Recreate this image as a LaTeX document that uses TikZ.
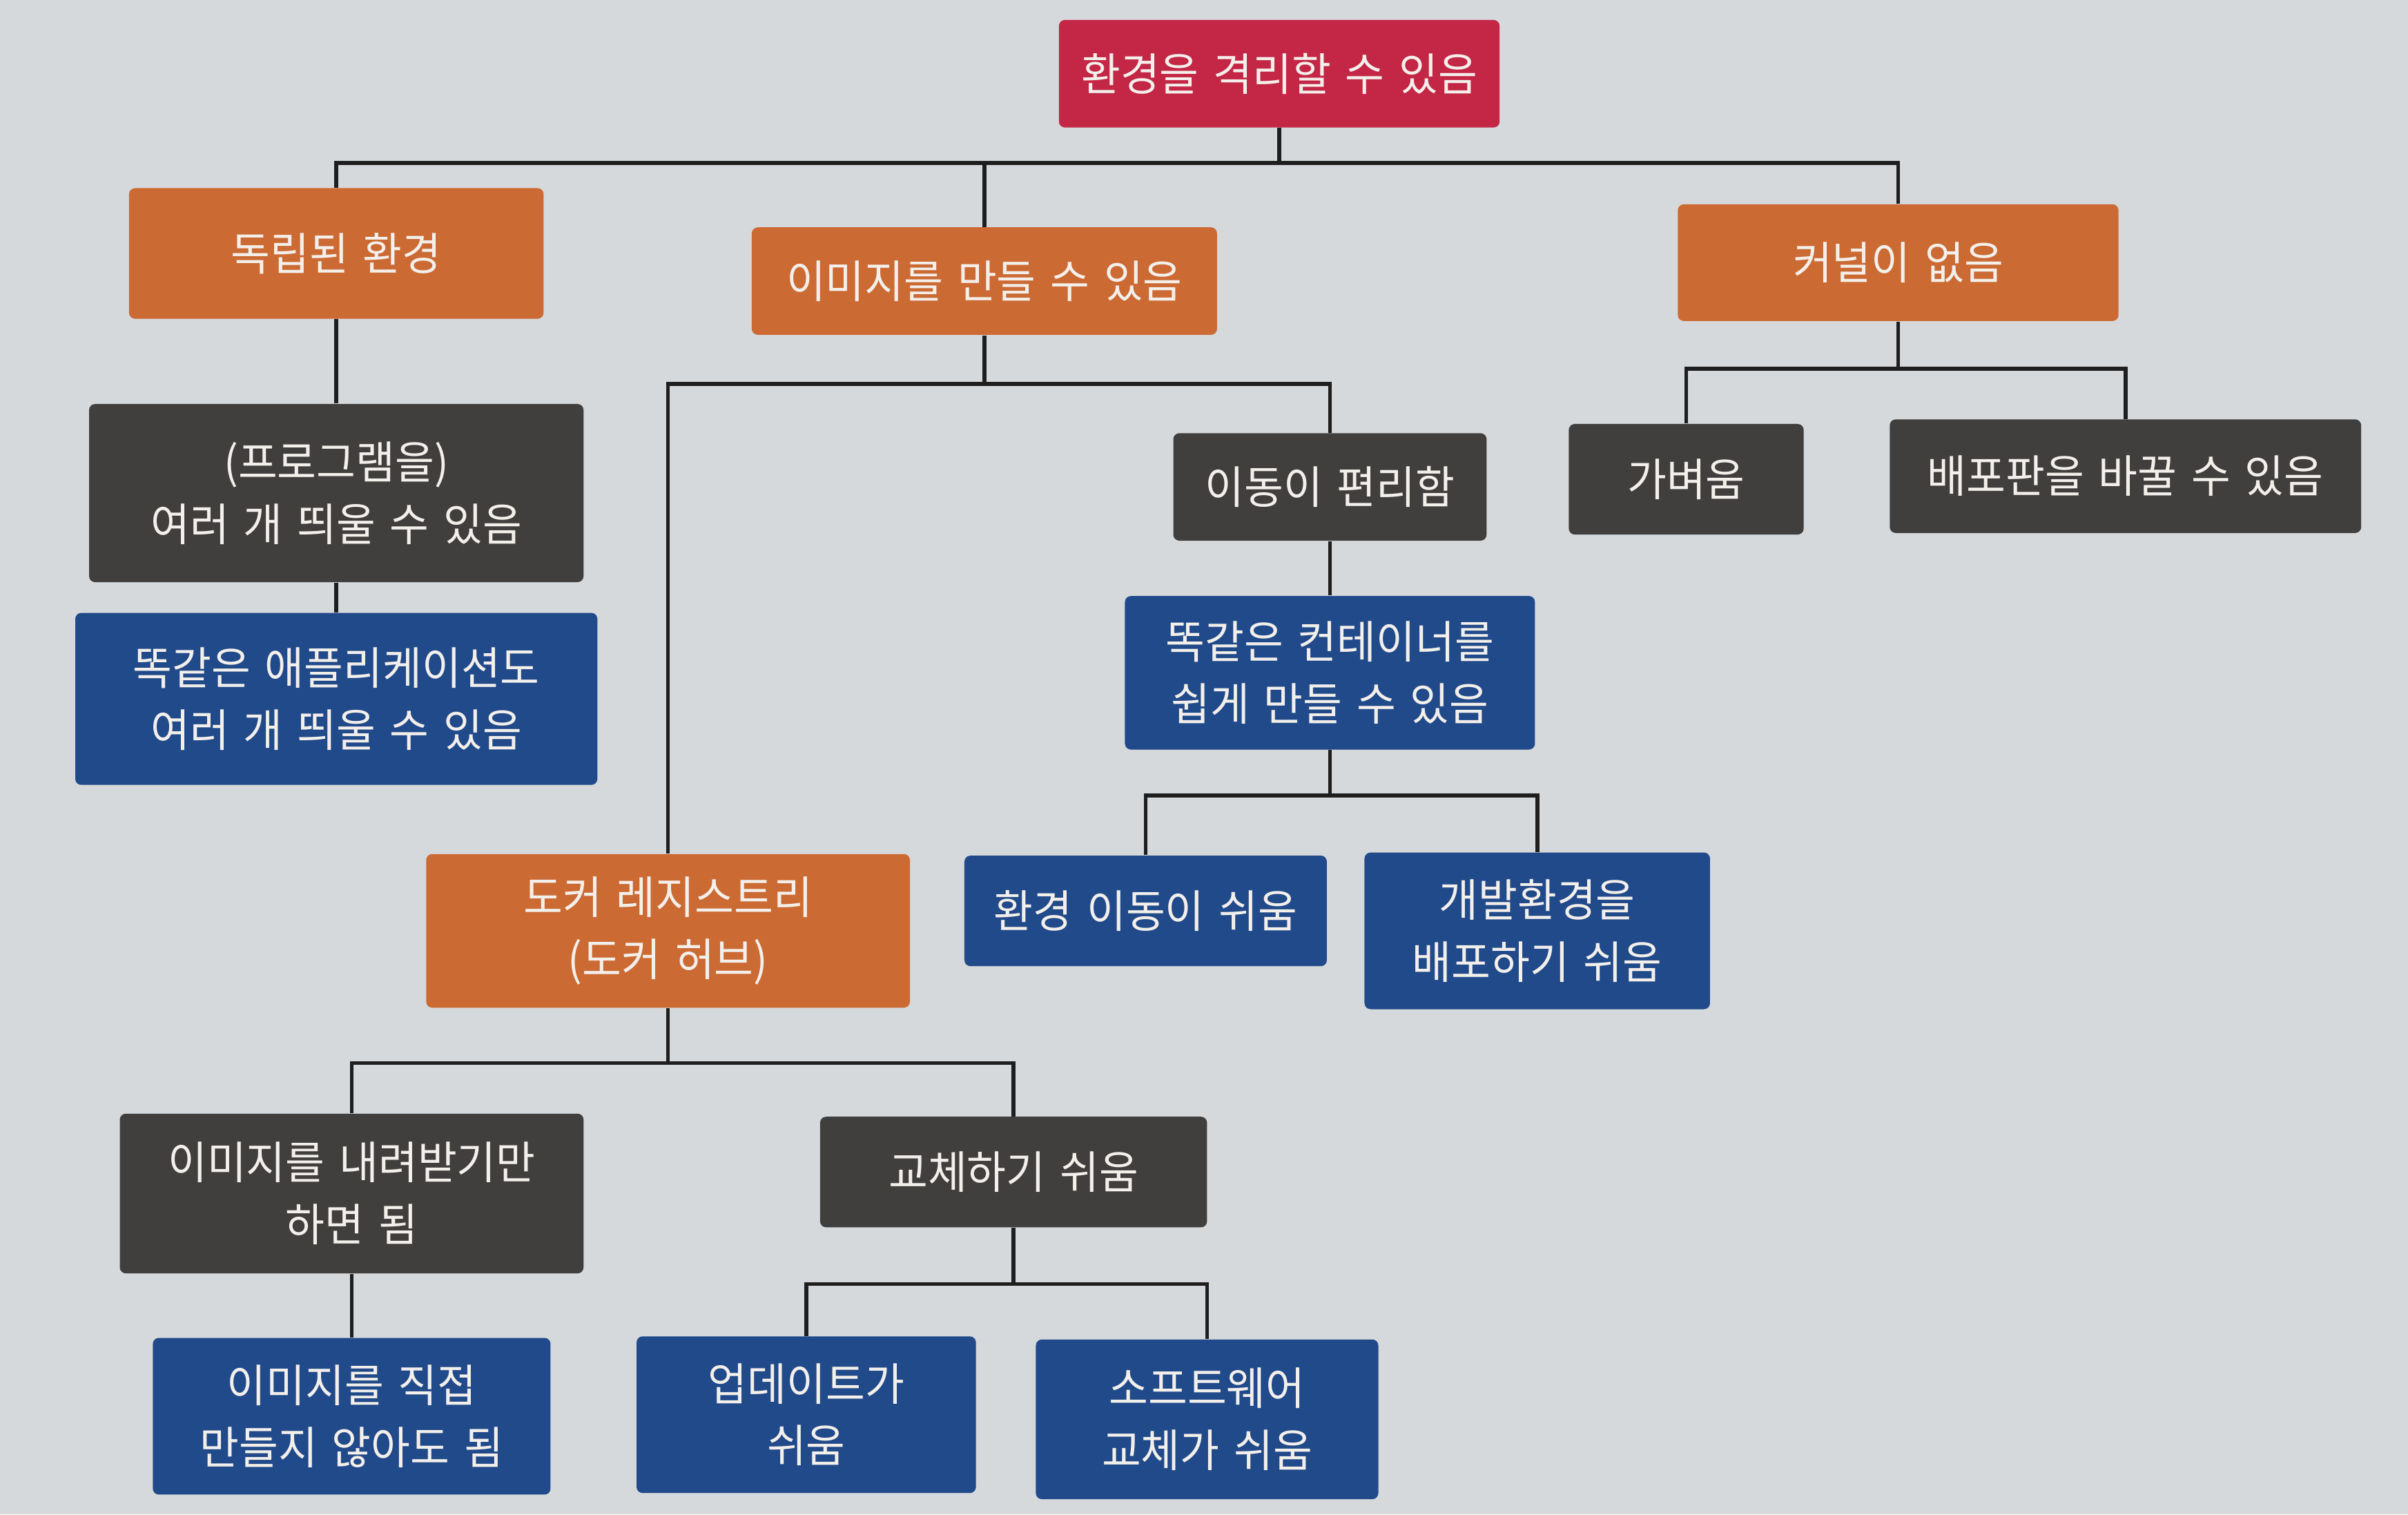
\documentclass[tikz,border=0pt]{standalone}
\usepackage{fontspec}
\newfontfamily\kr[FakeStretch=0.95,WordSpace=1.5]{Noto Sans CJK KR}
\definecolor{bgc}{HTML}{D6D9DC}
\definecolor{redc}{HTML}{C42645}
\definecolor{orc}{HTML}{CC6A33}
\definecolor{grc}{HTML}{403F3E}
\definecolor{blc}{HTML}{214A8A}
\definecolor{txc}{HTML}{F3EFEB}
\definecolor{lnc}{HTML}{1E1E1E}
\tikzset{
  box/.style={rectangle, rounded corners=2.5pt, inner sep=0pt, align=center,
    text=txc, font=\kr\fontsize{18.5pt}{25.5pt}\selectfont},
  redbox/.style={box, fill=redc},
  orbox/.style={box, fill=orc},
  grbox/.style={box, fill=grc},
  blbox/.style={box, fill=blc},
  wh/.style 2 args={minimum width=#1*0.022245cm, minimum height=#2*0.022245cm},
  conn/.style={draw=lnc, line width=1.6pt}
}
\begin{document}
\begin{tikzpicture}[x=0.022245cm, y=-0.022245cm]
\fill[bgc] (0,0) rectangle (1568,986);
\useasboundingbox (0,0) rectangle (1568,986);

% nodes
\node[redbox, wh={287}{70}] (top) at (833,48) {환경을 격리할 수 있음};
\node[orbox, wh={270}{85}] (indep) at (219,165) {독립된 환경};
\node[orbox, wh={303}{70}] (img) at (641,183) {이미지를 만들 수 있음};
\node[orbox, wh={287}{76}] (kernel) at (1236,171) {커널이 없음};
\node[grbox, wh={322}{116}] (prog) at (219,321) {(프로그램을)\\여러 개 띄울 수 있음};
\node[blbox, wh={340}{112}] (sameapp) at (219,455) {똑같은 애플리케이션도\\여러 개 띄울 수 있음};
\node[grbox, wh={204}{70}] (move) at (866,317) {이동이 편리함};
\node[blbox, wh={267}{100}] (samecont) at (866,438) {똑같은 컨테이너를\\쉽게 만들 수 있음};
\node[grbox, wh={153}{72}] (light) at (1098,312) {가벼움};
\node[grbox, wh={307}{74}] (distro) at (1384,310) {배포판을 바꿀 수 있음};
\node[orbox, wh={315}{100}] (registry) at (435,606) {도커 레지스트리\\(도커 허브)};
\node[blbox, wh={236}{72}] (envmove) at (746,593) {환경 이동이 쉬움};
\node[blbox, wh={225}{102}] (devenv) at (1001,606) {개발환경을\\배포하기 쉬움};
\node[grbox, wh={302}{104}] (download) at (229,777) {이미지를 내려받기만\\하면 됨};
\node[grbox, wh={252}{72}] (replace) at (660,763) {교체하기 쉬움};
\node[blbox, wh={259}{102}] (nomake) at (229,922) {이미지를 직접\\만들지 않아도 됨};
\node[blbox, wh={221}{102}] (update) at (525,921) {업데이트가\\쉬움};
\node[blbox, wh={223}{104}] (sw) at (786,924) {소프트웨어\\교체가 쉬움};

% bus levels
\coordinate (b1) at (0,106);
\coordinate (b2) at (0,250);
\coordinate (b3) at (0,240);
\coordinate (b4) at (0,518);
\coordinate (b5) at (0,692);
\coordinate (b6) at (0,836);

% connectors
\draw[conn] (top.south) -- (top.south |- b1);
\draw[conn] (indep.north) -- (indep.north |- b1) -- (kernel.north |- b1) -- (kernel.north);
\draw[conn] (img.north) -- (img.north |- b1);

\draw[conn] (indep.south) -- (prog.north);
\draw[conn] (prog.south) -- (sameapp.north);

\draw[conn] (img.south) -- (img.south |- b2);
\draw[conn] (registry.north) -- (registry.north |- b2) -- (move.north |- b2) -- (move.north);
\draw[conn] (move.south) -- (samecont.north);

\draw[conn] (samecont.south) -- (samecont.south |- b4);
\draw[conn] (envmove.north) -- (envmove.north |- b4) -- (devenv.north |- b4) -- (devenv.north);

\draw[conn] (kernel.south) -- (kernel.south |- b3);
\draw[conn] (light.north) -- (light.north |- b3) -- (distro.north |- b3) -- (distro.north);

\draw[conn] (registry.south) -- (registry.south |- b5);
\draw[conn] (download.north) -- (download.north |- b5) -- (replace.north |- b5) -- (replace.north);
\draw[conn] (download.south) -- (nomake.north);

\draw[conn] (replace.south) -- (replace.south |- b6);
\draw[conn] (update.north) -- (update.north |- b6) -- (sw.north |- b6) -- (sw.north);
\end{tikzpicture}
\end{document}
